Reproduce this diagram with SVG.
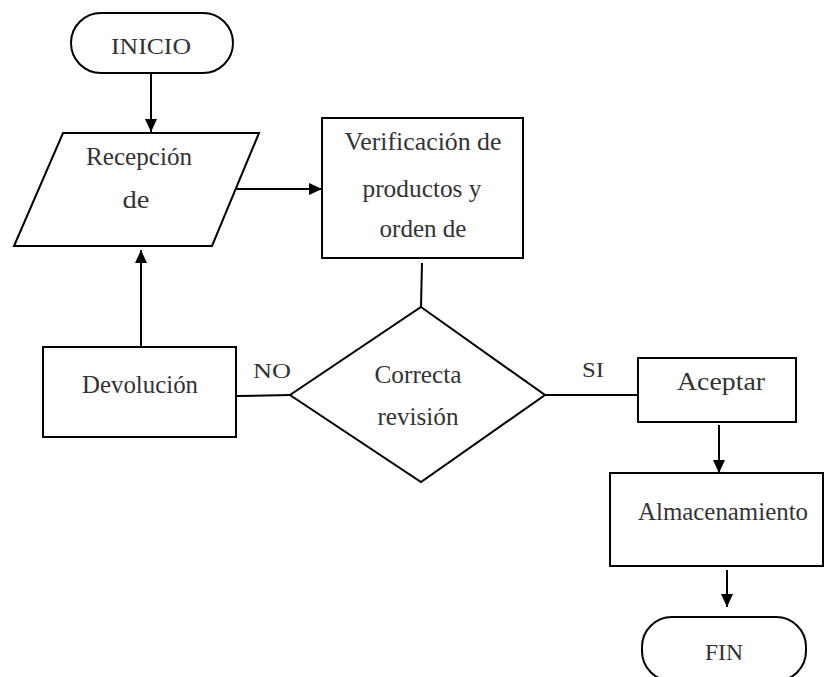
<svg xmlns="http://www.w3.org/2000/svg" width="826" height="677" viewBox="0 0 826 677">
<style>
.s{fill:#fff;stroke:#000;stroke-width:2}
.t{font-family:'Liberation Serif','Times New Roman','DejaVu Serif',serif;font-size:26px;fill:#333;text-anchor:middle}
.c{fill:none;stroke:#000;stroke-width:2}
</style>
<defs>
<marker id="ah" markerUnits="userSpaceOnUse" markerWidth="14" markerHeight="14" viewBox="0 0 14 14" refX="13" refY="7" orient="auto">
<path d="M0,1 L13,7 L0,13 Z" fill="#000"/>
</marker>
</defs>
<rect width="826" height="677" fill="#fff"/>
<g id="connectors">
<line class="c" x1="151" y1="74" x2="151" y2="132" marker-end="url(#ah)"/>
<line class="c" x1="141" y1="347" x2="141" y2="250" marker-end="url(#ah)"/>
<line class="c" x1="235" y1="189" x2="322" y2="189" marker-end="url(#ah)"/>
<line class="c" x1="422" y1="263" x2="421" y2="307"/>
<line class="c" x1="237" y1="396" x2="290" y2="395"/>
<line class="c" x1="545" y1="395" x2="637" y2="395"/>
<line class="c" x1="719" y1="425" x2="719" y2="473" marker-end="url(#ah)"/>
<line class="c" x1="727" y1="570" x2="727" y2="607" marker-end="url(#ah)"/>
<text class="t" x="272" y="378" textLength="38" lengthAdjust="spacingAndGlyphs" style="font-size:22px">NO</text>
<text class="t" x="593" y="377" textLength="22" lengthAdjust="spacingAndGlyphs" style="font-size:22px">SI</text>
</g>
<g id="inicio">
<rect class="s" x="71" y="13" width="162" height="60" rx="30"/>
<text class="t" x="151" y="54" textLength="80" lengthAdjust="spacingAndGlyphs" style="font-size:23px">INICIO</text>
</g>
<g id="recepcion">
<polygon class="s" points="63,133 259,133 212,246 14,246"/>
<text class="t" x="139" y="165" textLength="106" lengthAdjust="spacingAndGlyphs">Recepción</text>
<text class="t" x="136" y="208" textLength="27" lengthAdjust="spacingAndGlyphs">de</text>
</g>
<g id="verificacion">
<rect class="s" x="322" y="118" width="201" height="140"/>
<text class="t" x="423" y="150" textLength="157" lengthAdjust="spacingAndGlyphs">Verificación de</text>
<text class="t" x="422" y="197" textLength="119" lengthAdjust="spacingAndGlyphs">productos y</text>
<text class="t" x="423" y="237" textLength="87" lengthAdjust="spacingAndGlyphs">orden de</text>
</g>
<g id="decision">
<polygon class="s" points="421,307 545,395 421,482 290,395"/>
<text class="t" x="418" y="383" textLength="87" lengthAdjust="spacingAndGlyphs">Correcta</text>
<text class="t" x="418" y="425" textLength="81" lengthAdjust="spacingAndGlyphs">revisión</text>
</g>
<g id="devolucion">
<rect class="s" x="43" y="347" width="193" height="90"/>
<text class="t" x="140" y="393" textLength="116" lengthAdjust="spacingAndGlyphs">Devolución</text>
</g>
<g id="aceptar">
<rect class="s" x="638" y="358" width="158" height="64"/>
<text class="t" x="721" y="390" textLength="88" lengthAdjust="spacingAndGlyphs">Aceptar</text>
</g>
<g id="almacenamiento">
<rect class="s" x="610" y="473" width="213" height="93"/>
<text class="t" x="723" y="520" textLength="170" lengthAdjust="spacingAndGlyphs">Almacenamiento</text>
</g>
<g id="fin">
<rect class="s" x="642" y="617" width="164" height="64" rx="30"/>
<text class="t" x="724" y="660" textLength="38" lengthAdjust="spacingAndGlyphs" style="font-size:23px">FIN</text>
</g>
</svg>
